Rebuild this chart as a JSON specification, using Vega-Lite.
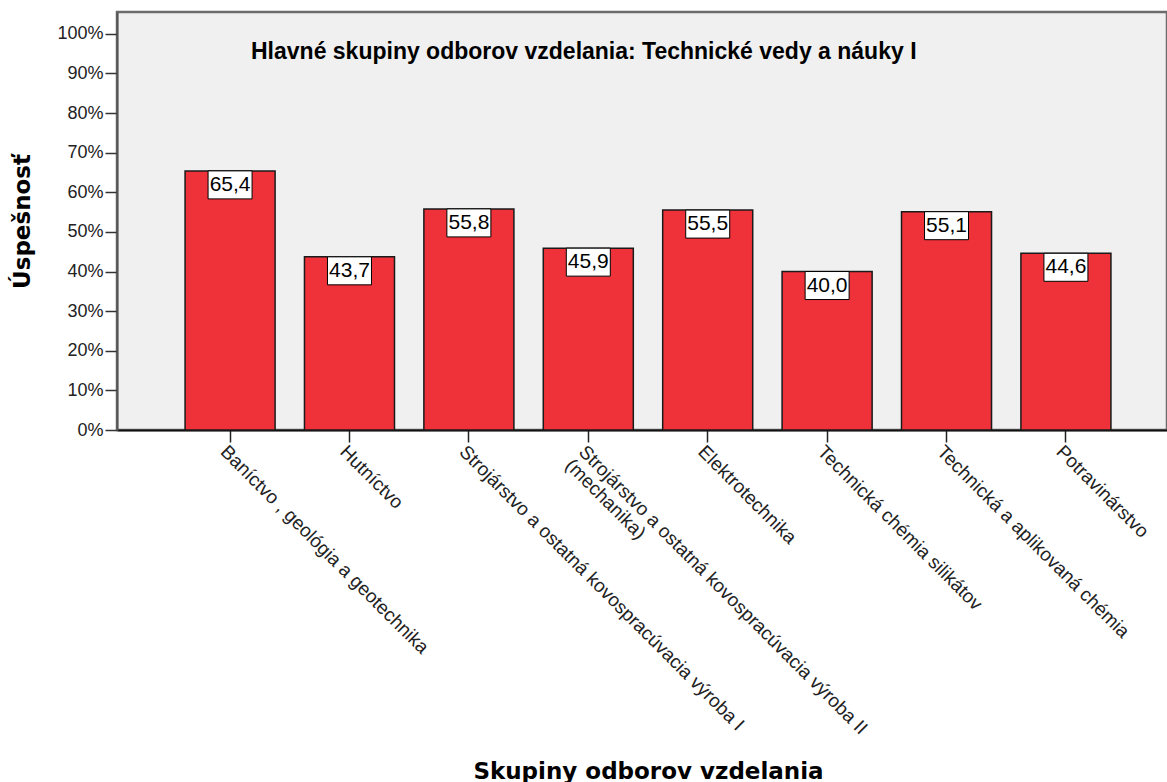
{
  "$schema": "https://vega.github.io/schema/vega-lite/v6.json",
  "width": 1050,
  "height": 418,
  "autosize": {"type": "none"},
  "padding": {"left": 117, "top": 12, "right": 0, "bottom": 352},
  "background": "white",
  "config": {
    "locale": {"number": {"decimal": ",", "thousands": " ", "grouping": [3], "currency": ["", " €"]}},
    "view": {"fill": "#f0f0f0", "stroke": "#6b6b6b", "strokeWidth": 2.5}
  },
  "title": {
    "text": "Hlavné skupiny odborov vzdelania: Technické vedy a náuky I",
    "anchor": "start",
    "orient": "top",
    "frame": "group",
    "offset": 0,
    "dx": 134,
    "dy": 70,
    "baseline": "alphabetic",
    "font": "Liberation Sans",
    "fontSize": 23,
    "fontWeight": "bold",
    "color": "#000000"
  },
  "data": {
    "values": [
      {"skupina": "Baníctvo , geológia a geotechnika", "uspesnost": 65.4},
      {"skupina": "Hutníctvo", "uspesnost": 43.7},
      {"skupina": "Strojárstvo a ostatná kovospracúvacia výroba I", "uspesnost": 55.8},
      {"skupina": "Strojárstvo a ostatná kovospracúvacia výroba II (mechanika)", "uspesnost": 45.9},
      {"skupina": "Elektrotechnika", "uspesnost": 55.5},
      {"skupina": "Technická chémia silikátov", "uspesnost": 40.0},
      {"skupina": "Technická a aplikovaná chémia", "uspesnost": 55.1},
      {"skupina": "Potravinárstvo", "uspesnost": 44.6}
    ]
  },
  "encoding": {
    "x": {
      "field": "skupina",
      "type": "nominal",
      "sort": null,
      "scale": {"paddingInner": 0.246, "paddingOuter": 0.57, "range": [0, 1062]},
      "axis": {
        "title": "Skupiny odborov vzdelania",
        "titleFont": "DejaVu Sans",
        "titleFontSize": 23,
        "titleFontWeight": "bold",
        "titleColor": "#000000",
        "titlePadding": 130,
        "labelAngle": 45,
        "labelAlign": "left",
        "labelBaseline": "top",
        "labelExpr": "split(replace(datum.label, ' (', '|('), '|')",
        "labelFont": "Liberation Sans",
        "labelFontSize": 19,
        "labelColor": "#222222",
        "labelLineHeight": 19,
        "labelPadding": 0,
        "labelLimit": 0,
        "labelOverlap": false,
        "tickSize": 12,
        "tickColor": "#222222",
        "tickWidth": 1.5,
        "domainColor": "#111111",
        "domainWidth": 2,
        "grid": false
      }
    },
    "y": {
      "field": "uspesnost",
      "type": "quantitative",
      "scale": {"domain": [0, 105.5], "nice": false},
      "axis": {
        "title": "Úspešnosť",
        "titleFont": "DejaVu Sans",
        "titleFontSize": 23,
        "titleFontWeight": "bold",
        "titleColor": "#000000",
        "titlePadding": 22,
        "values": [0, 10, 20, 30, 40, 50, 60, 70, 80, 90, 100],
        "labelExpr": "datum.value + '%'",
        "labelFont": "Liberation Sans",
        "labelFontSize": 18,
        "labelColor": "#222222",
        "labelPadding": 2,
        "tickSize": 12,
        "tickColor": "#333333",
        "tickWidth": 1.5,
        "domainColor": "#555555",
        "domainWidth": 2,
        "grid": false
      }
    }
  },
  "layer": [
    {"mark": {"type": "bar", "fill": "#ef3239", "stroke": "#1a1a1a", "strokeWidth": 1.5}},
    {"mark": {"type": "point", "shape": "M-22,0H22V28H-22Z", "size": 4, "filled": true, "fill": "white", "stroke": "black", "strokeWidth": 1, "opacity": 1}},
    {
      "mark": {"type": "text", "baseline": "middle", "dy": 14, "font": "Liberation Sans", "fontSize": 21, "color": "black"},
      "encoding": {"text": {"field": "uspesnost", "type": "quantitative", "format": ".1f"}}
    }
  ]
}
